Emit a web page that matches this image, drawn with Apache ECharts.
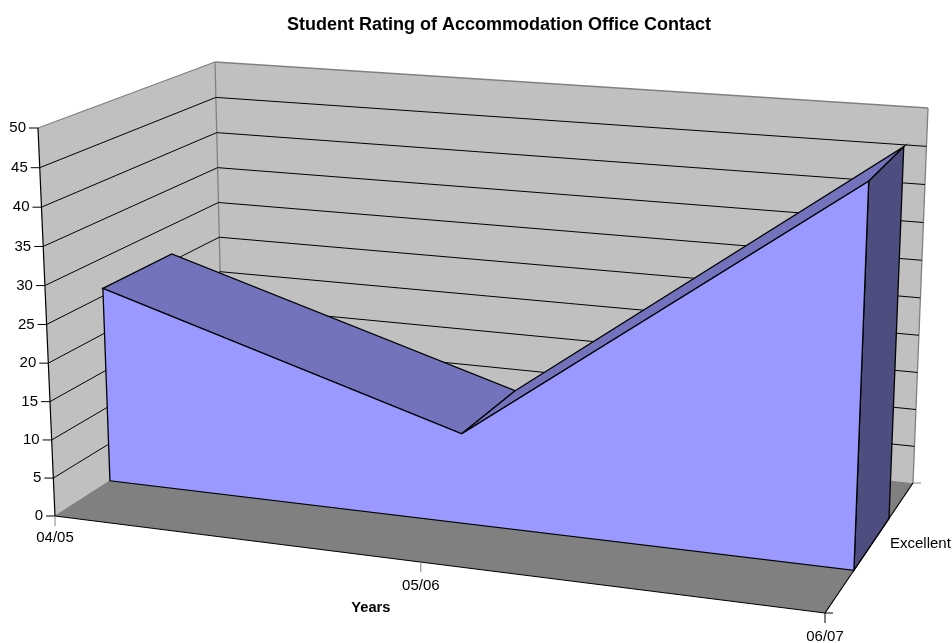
<!DOCTYPE html>
<html><head><meta charset="utf-8">
<style>html,body{margin:0;padding:0;background:#fff}#c{width:952px;height:643px}</style>
<script src="https://cdn.jsdelivr.net/npm/echarts@6/dist/echarts.min.js"></script>
</head><body><div id="c"></div>
<script>
const titleText = 'Student Rating of Accommodation Office Contact';
const categories = ['04/05', '05/06', '06/07'];
const values = [26, 11.7, 48];
const seriesName = 'Excellent';
const yTicks = [0, 5, 10, 15, 20, 25, 30, 35, 40, 45, 50];
const xAxisName = 'Years';

// Scene geometry: projected corners of the 3D box
const floorCorners = [[55,516],[825,613],[913,483],[223.5,408]]; // FL, FR, BR, BL
const topCorners = [[38,128],[840,193],[928,108],[215,62]];
const slab = {front: 0.30, back: 0.70};
const vBias = 0.975;
const FONT = '15px "Liberation Sans", Arial, sans-serif';
const BOLD = 'bold 14.67px "Liberation Sans", Arial, sans-serif';

function solveH(q) {
  // unit square (0,0),(1,0),(1,1),(0,1) -> quad
  const [[x0,y0],[x1,y1],[x2,y2],[x3,y3]] = q;
  const dx1=x1-x2, dx2=x3-x2, sx=x0-x1+x2-x3, dy1=y1-y2, dy2=y3-y2, sy=y0-y1+y2-y3;
  const d=dx1*dy2-dx2*dy1;
  const g=(sx*dy2-dx2*sy)/d, h=(dx1*sy-sx*dy1)/d;
  return (u,w)=>{
    const den=g*u+h*w+1;
    return [((x1-x0+g*x1)*u+(x3-x0+h*x3)*w+x0)/den, ((y1-y0+g*y1)*u+(y3-y0+h*y3)*w+y0)/den];
  };
}
const Hf = solveH(floorCorners), Ht = solveH(topCorners);
function P(u,w,v){
  const f=Hf(u,w), t=Ht(u,w), s=vBias*v/(vBias*v+1-v);
  return [f[0]+(t[0]-f[0])*s, f[1]+(t[1]-f[1])*s];
}
function uvw(params, api, cat, val){
  const c=api.coord([cat,val]), r=params.coordSys;
  return [(c[0]-r.x)/r.width, (r.y+r.height-c[1])/r.height];
}
const poly=(pts,fill,stroke,lw)=>({type:'polygon',shape:{points:pts},style:{fill:fill,stroke:stroke||null,lineWidth:lw||0}});
const line=(a,b,c,lw)=>({type:'line',shape:{x1:a[0],y1:a[1],x2:b[0],y2:b[1]},style:{stroke:c||'#000',lineWidth:lw||1}});
const text=(s,x,y,align,font,va)=>({type:'text',style:{text:s,x:x,y:y,align:align,verticalAlign:va||'middle',font:font||FONT,fill:'#000'}});
const lastCat=categories.length-1, yMax=yTicks[yTicks.length-1];

function renderWalls(params, api){
  const c0=uvw(params,api,0,0), c1=uvw(params,api,lastCat,yMax);
  const [u0,v0]=c0,[u1,v1]=c1;
  const FLb=P(u0,0,v0),FLt=P(u0,0,v1),BLb=P(u0,1,v0),BLt=P(u0,1,v1),BRb=P(u1,1,v0),BRt=P(u1,1,v1),FRb=P(u1,0,v0);
  const g='#808080';
  return {type:'group',children:[
    poly([BLb,BLt,BRt,BRb],'#c0c0c0'),
    poly([FLb,FLt,BLt,BLb],'#c0c0c0'),
    poly([FLb,BLb,BRb,FRb],'#808080'),
    line(FLt,BLt,g,1.3), line(BLt,BRt,g,1.3), line(BRt,BRb,g,1.3), line(BLt,BLb,g,1.3),
    line(FLb,BLb,g,1), line(FLt,FLb,'#000',1.2),
    line(FLb,FRb,'#000',1.2), line(FRb,BRb,'#000',1.2)
  ]};
}
function renderGrid(params, api){
  const t=api.value(1), [u0,v]=uvw(params,api,0,t), [u1]=uvw(params,api,lastCat,t);
  const a=P(u0,0,v), b=P(u0,1,v), c=P(u1,1,v);
  const kids=[line([a[0]-9,a[1]],a,'#000',1), text(String(t),a[0]-12,a[1],'right')];
  if(t>0&&t<yMax){kids.push(line(a,b,'#000',1), line(b,c,'#000',1));}
  return {type:'group',children:kids};
}
function renderCats(params, api){
  const i=params.dataIndex, [u,v]=uvw(params,api,i,0);
  const p=P(u,0,v), kids=[line(p,[p[0],p[1]+10],'#808080',1), text(categories[i],p[0],p[1]+(i===0?22:24),'center')];
  if(i===lastCat){
    const b=P(u,1,v);
    kids.push(line(p,[p[0]+8,p[1]],'#000',1), line(b,[b[0]+8,b[1]],'#808080',1));
    kids.push(text(seriesName,(p[0]+b[0])/2+21,(p[1]+b[1])/2-4,'left'));
    kids[0].style.stroke='#000';
  }
  if(i===1) kids.push(text(xAxisName,p[0]-50,p[1]+46,'center',BOLD));
  return {type:'group',children:kids};
}
function renderArea(params, api){
  if(params.dataIndex!==0) return null;
  const fT=[],bT=[],fB=[],bB=[];
  categories.forEach((_,i)=>{
    const [u,v]=uvw(params,api,i,values[i]), [,v0]=uvw(params,api,i,0);
    fT.push(P(u,slab.front,v)); bT.push(P(u,slab.back,v)); fB.push(P(u,slab.front,v0)); bB.push(P(u,slab.back,v0));
  });
  const kids=[];
  const n=lastCat;
  for(let i=0;i<n;i++) kids.push(poly([fT[i],bT[i],bT[i+1],fT[i+1]],'#7373bd','#000',1.3));
  kids.push(poly([fT[n],bT[n],bB[n],fB[n]],'#4d4d80','#000',1.3));
  kids.push(poly([fB[0],...fT,fB[n]],'#9999ff','#000',1.3));
  return {type:'group',children:kids};
}
const common={type:'custom',coordinateSystem:'cartesian2d',animation:false,silent:true,clip:false,encode:{x:0,y:1}};
const chart=echarts.init(document.getElementById('c'),null,{renderer:'canvas'});
chart.setOption({
  backgroundColor:'#fff',animation:false,
  title:{text:titleText,left:494,top:11,textAlign:'center',textStyle:{fontFamily:'"Liberation Sans", Arial, sans-serif',fontSize:18,fontWeight:'bold',color:'#000'}},
  grid:{left:100,right:100,top:100,bottom:100},
  xAxis:{type:'category',data:categories,boundaryGap:false,show:false},
  yAxis:{type:'value',min:0,max:yMax,interval:5,show:false},
  series:[
    Object.assign({},common,{name:'walls',renderItem:renderWalls,data:[[0,yMax]],z:1}),
    Object.assign({},common,{name:'grid',renderItem:renderGrid,data:yTicks.map(t=>[0,t]),z:2}),
    Object.assign({},common,{name:'cats',renderItem:renderCats,data:categories.map((c,i)=>[i,0]),z:3}),
    Object.assign({},common,{name:seriesName,renderItem:renderArea,data:values.map((v,i)=>[i,v]),z:4})
  ]
});
</script></body></html>
